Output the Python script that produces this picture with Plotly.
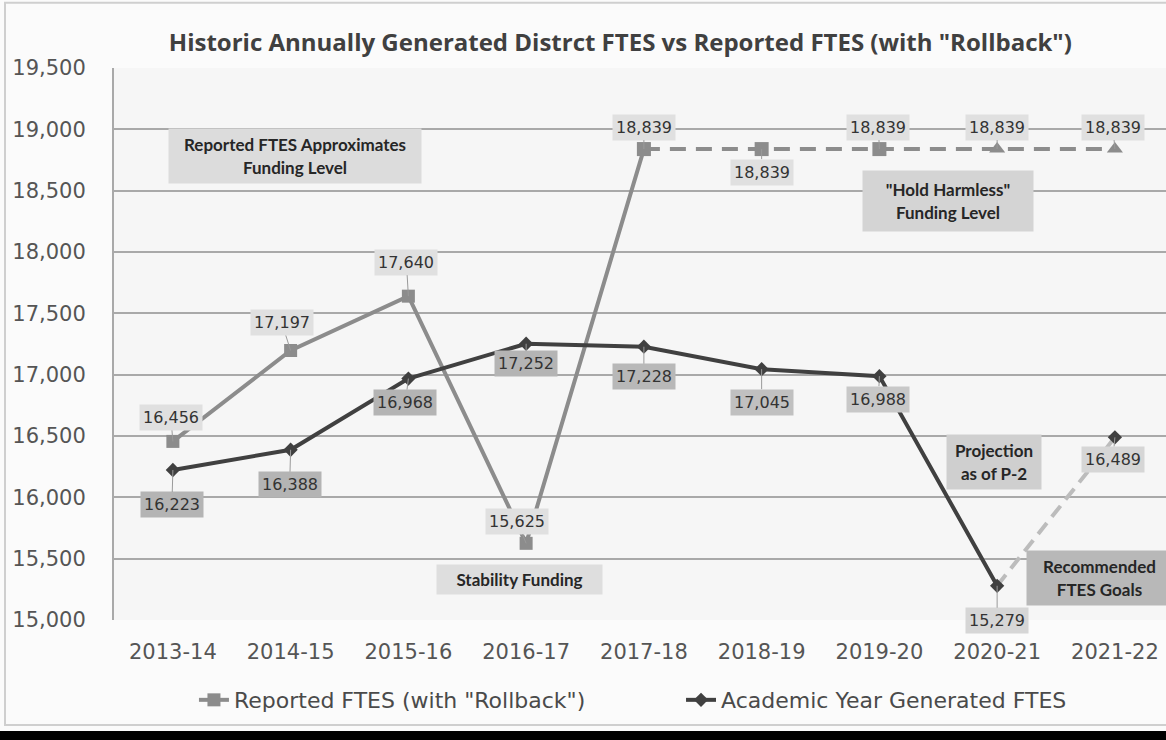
import plotly.graph_objects as go

years = ["2013-14", "2014-15", "2015-16", "2016-17", "2017-18", "2018-19", "2019-20", "2020-21", "2021-22"]
reported = [16456, 17197, 17640, 15625, 18839, 18839, 18839, 18839, 18839]
academic = [16223, 16388, 16968, 17252, 17228, 17045, 16988, 15279, 16489]
y_ticks = [15000, 15500, 16000, 16500, 17000, 17500, 18000, 18500, 19000, 19500]

# label offsets (px) relative to point: (ax, ay)
rep_off = [(-2, -24), (-9, -28), (-2, -34), (-9, -22), (0, -22), (0, 23), (-1, -22), (0, -22), (-2, -22)]
aca_off = [(-1, 35), (-1, 35), (-3, 24), (0, 20), (0, 30), (0, 33), (-1, 23), (0, 35), (-2, 22)]
aca_bg = ["#b4b4b4", "#b4b4b4", "#b4b4b4", "#b4b4b4", "#b8b8b8", "#c0c0c0", "#c8c8c8", "#d6d6d6", "#d6d6d6"]

REP_C = "#8c8c8c"
ACA_C = "#404040"
DASH_C = "#bcbcbc"

fig = go.Figure()

fig.add_trace(go.Scatter(
    x=years[:5], y=reported[:5], mode="lines+markers", name='Reported FTES (with "Rollback")',
    line=dict(color=REP_C, width=4), marker=dict(symbol="square", size=13, color=REP_C),
    legend="legend",
))
fig.add_trace(go.Scatter(
    x=years[4:], y=reported[4:], mode="lines+markers", showlegend=False,
    line=dict(color=REP_C, width=4, dash="16px,10px"),
    marker=dict(symbol=["square", "square", "square", "triangle-up", "triangle-up"], size=14, color=REP_C),
))
fig.add_trace(go.Scatter(
    x=years[7:], y=academic[7:], mode="lines", showlegend=False,
    line=dict(color=DASH_C, width=4, dash="14px,8px"),
))
fig.add_trace(go.Scatter(
    x=years[:8], y=academic[:8], mode="lines+markers", name="Academic Year Generated FTES",
    line=dict(color=ACA_C, width=4), marker=dict(symbol="diamond", size=11, color=ACA_C),
    legend="legend2",
))
fig.add_trace(go.Scatter(
    x=years[8:], y=academic[8:], mode="markers", showlegend=False,
    marker=dict(symbol="diamond", size=11, color=ACA_C),
))

lab_font = dict(family="DejaVu Sans", size=16, color="#333333")
for i, (yr, v) in enumerate(zip(years, reported)):
    ax, ay = rep_off[i]
    fig.add_annotation(x=yr, y=v, text=f"{v:,}", ax=ax, ay=ay, showarrow=True, arrowhead=0,
                       arrowwidth=1, arrowcolor="#9a9a9a", bgcolor="#e0e0e0", borderpad=3,
                       font=lab_font)
for i, (yr, v) in enumerate(zip(years, academic)):
    ax, ay = aca_off[i]
    fig.add_annotation(x=yr, y=v, text=f"{v:,}", ax=ax, ay=ay, showarrow=True, arrowhead=0,
                       arrowwidth=1, arrowcolor="#9a9a9a", bgcolor=aca_bg[i], borderpad=3,
                       font=lab_font)

box_font = dict(family="Lato", size=17, color="#262626", weight="bold")
notes = [
    ("Reported FTES Approximates<br>Funding Level", 1.036, 18782, 250, 52, "#dcdcdc"),
    ("Stability Funding", 2.947, 15334, 163, 27, "#dedede"),
    ("\"Hold Harmless\"<br>Funding Level", 6.58, 18416, 168, 58, "#d4d4d4"),
    ("Projection<br>as of P-2", 6.97, 16288, 92, 52, "#cfcfcf"),
    ("Recommended<br>FTES Goals", 7.87, 15342, 143, 52, "#b8b8b8"),
]
for t, x, y, w, h, bg in notes:
    fig.add_annotation(x=x, y=y, text=t, showarrow=False, width=w, height=h, bgcolor=bg,
                       font=box_font, align="center", valign="middle")

# outer border and bottom black bar
fig.add_shape(type="rect", xref="paper", yref="paper", x0=-0.1036, x1=1.03, y0=-0.19, y1=1.118,
              line=dict(color="#cfcfcf", width=2), fillcolor="rgba(0,0,0,0)", layer="below")
fig.add_shape(type="rect", xref="paper", yref="paper", x0=-0.12, x1=1.03, y0=-0.225, y1=-0.201,
              line=dict(width=0), fillcolor="#000000")

leg_font = dict(family="DejaVu Sans", size=22, color="#4a4a4a")
fig.update_layout(
    width=1166, height=740,
    margin=dict(l=114, r=0, t=68, b=120),
    paper_bgcolor="#fbfbfb", plot_bgcolor="#f6f6f6",
    title=dict(text='Historic Annually Generated Distrct FTES vs Reported FTES (with "Rollback")',
               x=0.532, xanchor="center", y=0.942, yanchor="middle",
               font=dict(family="Open Sans", size=24, color="#404040", weight="bold")),
    showlegend=True,
    legend=dict(orientation="h", x=0.076, xanchor="left", y=-0.145, yanchor="middle",
                font=leg_font, bgcolor="rgba(0,0,0,0)", itemwidth=30),
    legend2=dict(orientation="h", x=0.539, xanchor="left", y=-0.145, yanchor="middle",
                 font=leg_font, bgcolor="rgba(0,0,0,0)", itemwidth=30),
    xaxis=dict(type="category", categoryorder="array", categoryarray=years,
               range=[-0.5, 8.434], showgrid=False, zeroline=False, showline=False,
               tickfont=dict(family="DejaVu Sans", size=21, color="#555555"),
               ticks="", ticklabelstandoff=17),
    yaxis=dict(range=[15000, 19500], tickvals=y_ticks, tickformat=",d",
               showgrid=True, gridcolor="#a9a9a9", gridwidth=2, zeroline=False,
               showline=True, linecolor="#a9a9a9", linewidth=2,
               tickfont=dict(family="DejaVu Sans", size=21, color="#555555"),
               ticks="", ticklabelstandoff=22),
)

fig.write_html(
    "out.html",
    config={"displayModeBar": False},
    post_script="document.body.style.margin='0';document.body.style.overflow='hidden';"
                "document.documentElement.style.overflow='hidden';",
)
